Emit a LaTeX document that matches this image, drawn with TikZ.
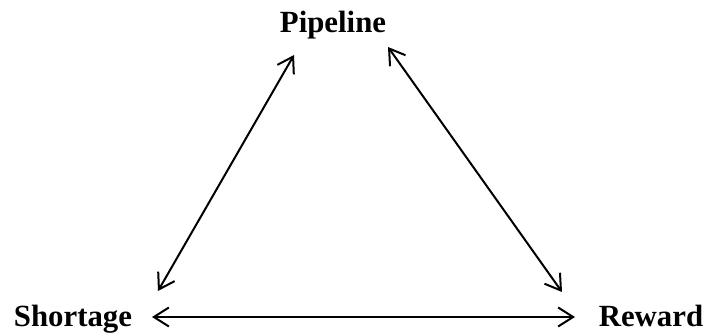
\documentclass[tikz,border=0pt]{standalone}
\usepackage{fontspec}
\setmainfont{Liberation Serif}
\usetikzlibrary{arrows.meta,positioning}

\begin{document}
\begin{tikzpicture}[
  x=0.5pt, y=-0.5pt,
  lab/.style={anchor=base, inner sep=0pt, font=\fontsize{15.4}{18}\selectfont\bfseries},
  arr/.style={{Straight Barb[length=7.5pt,width=9.5pt]}-{Straight Barb[length=7.5pt,width=9.5pt]}, line width=1pt},
]
\useasboundingbox (0,0) rectangle (710,335);
\node[lab] (pipe) at (333,33) {Pipeline};
\node[lab] (short) at (73,327) {Shortage};
\node[lab] (rew) at (651,327) {Reward};
% arrow ends
\coordinate (sp) at (158,291);
\coordinate (ps) at (294,55);
\coordinate (pr) at (388,47);
\coordinate (rp) at (562,292);
\coordinate (sr) at (152,317);
\coordinate (rs) at (575,317);
\draw[arr] (sp) -- (ps);
\draw[arr] (pr) -- (rp);
\draw[arr] (sr) -- (rs);
\end{tikzpicture}
\end{document}
